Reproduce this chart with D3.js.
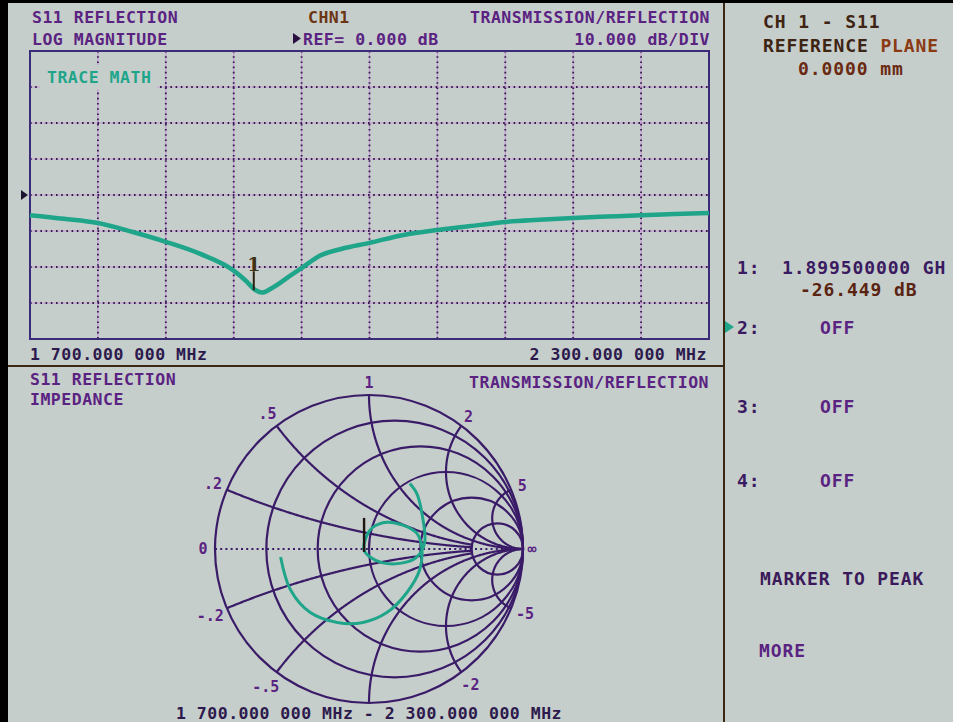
<!DOCTYPE html>
<html>
<head>
<meta charset="utf-8">
<script src="https://cdn.jsdelivr.net/npm/d3@7"></script>
<style>
  html, body { margin: 0; padding: 0; background: #c6cecb; }
  svg { display: block; }
  text { font-family: "DejaVu Sans Mono", "Liberation Mono", monospace; font-weight: bold; }
</style>
</head>
<body>
<svg id="screen" width="953" height="722"></svg>
<script>
// Log magnitude trace (S11).
const freqMHz = [1700, 1730, 1760, 1790, 1820, 1850, 1880, 1890, 1899.5, 1905, 1915, 1930, 1940, 1956, 1975,
  2000, 2030, 2060, 2098, 2120, 2150, 2180, 2210, 2240, 2270, 2300];
const magDb = [-5.6, -6.6, -7.8, -10.2, -13.0, -16.3, -21.0, -23.6, -26.45, -27.1, -25.6, -22.4, -20.3, -16.9, -15.0,
  -13.3, -11.1, -9.7, -8.3, -7.5, -6.9, -6.4, -6.0, -5.6, -5.3, -5.0];

// Graticule of the log magnitude plot.
const freqTicks = [1700, 1760, 1820, 1880, 1940, 2000, 2060, 2120, 2180, 2240, 2300];
const dbTicks = [-40, -30, -20, -10, 0, 10, 20, 30, 40];
const refDb = 0;
const markerFreq = 1899.5;
const markerDb = -26.449;

// Smith chart graticule.
const smithR = [0, 0.2, 0.5, 1, 2, 5];
const smithX = [0.2, 0.5, 1, 2, 5, -0.2, -0.5, -1, -2, -5];
const smithLabelX = [0, 0.2, 0.5, 1, 2, 5, -0.2, -0.5, -2, -5];
const smithLabelText = ['0', '.2', '.5', '1', '2', '5', '-.2', '-.5', '-2', '-5'];

const gammaRe = [0.265, 0.31, 0.348, 0.361, 0.31, 0.219, 0.09, 0.006, -0.032, -0.013, 0.026, 0.116, 0.219,
  0.31, 0.342, 0.329, 0.245, 0.116, -0.039, -0.206, -0.381, -0.51, -0.574];
const gammaIm = [0.426, 0.361, 0.206, 0.039, -0.052, -0.09, -0.09, -0.052, -0.006, 0.09, 0.142, 0.174, 0.155,
  0.103, 0.013, -0.135, -0.284, -0.413, -0.477, -0.477, -0.413, -0.265, -0.052];
const smithMarkerIndex = 8;

// Colours.
const bg = '#c6cecb';
const purple = '#5a2382';
const darkText = '#2d1a4d';
const brown = '#3e2412';
const teal = '#1fa58a';
const graticule = '#3a1b68';

const svg = d3.select('#screen');

// Screen base.
svg.append('rect').attr('width', 953).attr('height', 722).attr('fill', bg);

function label(g, x, y, str, opts = {}) {
  return g.append('text')
    .attr('x', x)
    .attr('y', y)
    .attr('text-anchor', opts.anchor || 'start')
    .style('font-size', (opts.size || 16.5) + 'px')
    .style('letter-spacing', (opts.spacing === undefined ? 0.5 : opts.spacing) + 'px')
    .style('fill', opts.fill || purple)
    .text(str);
}

// ---------- Log magnitude plot ----------
const plot = {left: 30, right: 709, top: 51, bottom: 339};

const xScale = d3.scaleLinear().domain([1700, 2300]).range([plot.left, plot.right]);
const yScale = d3.scaleLinear().domain([-40, 40]).range([plot.bottom, plot.top]);

const upper = svg.append('g').attr('class', 'log-mag');

const grid = upper.append('g').attr('class', 'grid');
grid.selectAll('.vsoft')
  .data(freqTicks.slice(1, -1))
  .enter()
  .append('line')
  .attr('x1', d => xScale(d)).attr('x2', d => xScale(d))
  .attr('y1', plot.top).attr('y2', plot.bottom)
  .style('stroke', '#c583d6').style('stroke-width', 1.2).style('opacity', 0.7);
grid.selectAll('.hsoft')
  .data(dbTicks.slice(1, -1))
  .enter()
  .append('line')
  .attr('x1', plot.left).attr('x2', plot.right)
  .attr('y1', d => yScale(d)).attr('y2', d => yScale(d))
  .style('stroke', '#c583d6').style('stroke-width', 1.2).style('opacity', 0.7);
grid.selectAll('.vdot')
  .data(freqTicks.slice(1, -1))
  .enter()
  .append('line')
  .attr('x1', d => xScale(d)).attr('x2', d => xScale(d))
  .attr('y1', plot.top).attr('y2', plot.bottom)
  .style('stroke', '#33194f').style('stroke-width', 1.8).style('stroke-dasharray', '1.6,3.6');
grid.selectAll('.hdot')
  .data(dbTicks.slice(1, -1))
  .enter()
  .append('line')
  .attr('x1', plot.left).attr('x2', plot.right)
  .attr('y1', d => yScale(d)).attr('y2', d => yScale(d))
  .style('stroke', '#33194f').style('stroke-width', 1.8).style('stroke-dasharray', '1.6,3.6');

// Frame.
upper.append('rect')
  .attr('x', xScale(1700)).attr('y', yScale(40))
  .attr('width', xScale(2300) - xScale(1700))
  .attr('height', yScale(-40) - yScale(40))
  .style('fill', 'none').style('stroke', '#3b2a78').style('stroke-width', 2);

// TRACE MATH annotation blanks the graticule beneath it.
const traceMath = label(upper, 47, 83, 'TRACE MATH', {fill: teal});
const tmBox = traceMath.node().getBBox();
upper.insert('rect', 'text')
  .attr('x', tmBox.x - 7).attr('y', tmBox.y - 3)
  .attr('width', tmBox.width + 13).attr('height', tmBox.height + 5)
  .style('fill', bg);

// Trace.
const magData = freqMHz.map((f, i) => ({f: f, db: magDb[i]}));
const magLine = d3.line()
  .x(d => xScale(d.f))
  .y(d => yScale(d.db))
  .curve(d3.curveMonotoneX);
upper.append('path')
  .datum(magData)
  .attr('d', magLine)
  .style('fill', 'none').style('stroke', teal).style('stroke-width', 4.5)
  .style('stroke-linejoin', 'round');

// Marker 1.
const mx = xScale(markerFreq) - 2;
const my = yScale(markerDb);
upper.append('line')
  .attr('x1', mx).attr('x2', mx).attr('y1', my).attr('y2', my - 19)
  .style('stroke', '#2a2010').style('stroke-width', 2);
upper.append('text')
  .attr('x', mx).attr('y', my - 19)
  .attr('text-anchor', 'middle')
  .style('font-family', '"DejaVu Serif", serif')
  .style('font-weight', 'bold')
  .style('font-size', '19px')
  .style('fill', '#3e3210')
  .text('1');

// Reference position arrow.
const ry = yScale(refDb);
upper.append('path')
  .attr('d', `M21,${ry - 5}L28,${ry}L21,${ry + 5}Z`)
  .style('fill', '#1d1430');

// Header and footer texts.
label(upper, 32, 23, 'S11 REFLECTION');
label(upper, 32, 45, 'LOG MAGNITUDE');
label(upper, 308, 23, 'CHN1', {fill: '#6b3514'});
upper.append('path').attr('d', 'M293,33L301,38.5L293,44Z').style('fill', '#2a1040');
label(upper, 303, 45, 'REF= 0.000 dB');
label(upper, 710, 23, 'TRANSMISSION/REFLECTION', {anchor: 'end'});
label(upper, 710, 45, '10.000 dB/DIV', {anchor: 'end'});
label(upper, 30, 360, '1 700.000 000 MHz', {fill: darkText});
label(upper, 707, 360, '2 300.000 000 MHz', {fill: darkText, anchor: 'end'});

// ---------- Smith chart ----------
const cx = 369, cy = 549, R = 154;
const gx = d3.scaleLinear().domain([-1, 1]).range([cx - R, cx + R]);
const gy = d3.scaleLinear().domain([-1, 1]).range([cy + R, cy - R]);

const lower = svg.append('g').attr('class', 'smith');

// Real axis.
lower.append('line')
  .attr('x1', gx(-1)).attr('x2', gx(1)).attr('y1', gy(0)).attr('y2', gy(0))
  .style('stroke', graticule).style('stroke-width', 1.8).style('stroke-dasharray', '2,3.2');

// Constant resistance circles.
lower.selectAll('.rcircle')
  .data(smithR)
  .enter()
  .append('circle')
  .attr('cx', d => gx(d / (1 + d)))
  .attr('cy', gy(0))
  .attr('r', d => gx(1 / (1 + d)) - gx(0))
  .style('fill', 'none').style('stroke', graticule).style('stroke-width', 2.2);

// Constant reactance arcs; small ones stop at the r = 5 circle.
function gamma(r, x) {
  const den = (r + 1) * (r + 1) + x * x;
  return [(r * r + x * x - 1) / den, (2 * x) / den];
}
const arcLine = d3.line().x(d => gx(d[0])).y(d => gy(d[1]));
lower.selectAll('.xarc')
  .data(smithX)
  .enter()
  .append('path')
  .attr('d', x => {
    const rMax = Math.abs(x) < 1 ? 5 : 1e5;
    const pts = [];
    for (let i = 0; i < 400; i++) {
      const t = i / 400;
      const r = t / (1 - t);
      if (r > rMax) break;
      pts.push(gamma(r, x));
    }
    pts.push(gamma(rMax, x));
    return arcLine(pts);
  })
  .style('fill', 'none').style('stroke', graticule).style('stroke-width', 2.2);

// Graticule labels around the rim.
lower.selectAll('.xlabel')
  .data(smithLabelX)
  .enter()
  .append('text')
  .attr('x', (d, i) => {
    const a = Math.PI - 2 * Math.atan(d);
    return cx + (R + 9 + 3 * smithLabelText[i].length) * Math.cos(a);
  })
  .attr('y', (d, i) => {
    const a = Math.PI - 2 * Math.atan(d);
    return cy - (R + 9 + 3 * smithLabelText[i].length) * Math.sin(a);
  })
  .attr('text-anchor', 'middle')
  .attr('dy', '0.36em')
  .style('font-size', '15px')
  .style('fill', purple)
  .text((d, i) => smithLabelText[i]);
lower.append('text')
  .attr('x', gx(1) + 9).attr('y', gy(0))
  .attr('text-anchor', 'middle').attr('dy', '0.33em')
  .style('font-size', '15px').style('fill', purple)
  .text('\u221e');

// Trace.
const smithData = gammaRe.map((re, i) => [re, gammaIm[i]]);
lower.append('path')
  .datum(smithData)
  .attr('d', d3.line().x(d => gx(d[0])).y(d => gy(d[1])).curve(d3.curveCatmullRom))
  .style('fill', 'none').style('stroke', teal).style('stroke-width', 3);

// Marker 1 on the Smith trace.
const sm = smithData[smithMarkerIndex];
lower.append('line')
  .attr('x1', gx(sm[0])).attr('x2', gx(sm[0]))
  .attr('y1', gy(sm[1]) + 2).attr('y2', gy(sm[1]) - 32)
  .style('stroke', '#1d1410').style('stroke-width', 2.4);

// Panel texts.
label(lower, 30, 385, 'S11 REFLECTION');
label(lower, 30, 405, 'IMPEDANCE');
label(lower, 709, 388, 'TRANSMISSION/REFLECTION', {anchor: 'end'});
label(lower, gx(0), 719, '1 700.000 000 MHz - 2 300.000 000 MHz', {anchor: 'middle', fill: darkText});

// ---------- Softkey / marker panel ----------
const side = svg.append('g').attr('class', 'side');
const sopt = {size: 18, spacing: 0.9};

label(side, 763, 28, 'CH 1 - S11', Object.assign({fill: brown}, sopt));
const refPlane = label(side, 763, 52, 'REFERENCE ', Object.assign({fill: brown}, sopt));
refPlane.append('tspan').style('fill', '#8b3a14').text('PLANE');
label(side, 798, 75, '0.0000 mm', Object.assign({fill: '#6a2a12'}, sopt));

label(side, 737, 274, '1:', Object.assign({fill: '#3a1a60'}, sopt));
label(side, 782, 274, '1.899500000 GH', Object.assign({fill: '#3a1a60'}, sopt));
label(side, 800, 296, '-26.449 dB', Object.assign({fill: '#5a2412'}, sopt));

side.append('path').attr('d', 'M725,321L734,327L725,333Z').style('fill', teal);
const offRows = [{key: '2:', y: 334}, {key: '3:', y: 413}, {key: '4:', y: 487}];
offRows.forEach(row => {
  label(side, 737, row.y, row.key, Object.assign({fill: '#3a1a60'}, sopt));
  label(side, 820, row.y, 'OFF', Object.assign({fill: purple}, sopt));
});
label(side, 760, 585, 'MARKER TO PEAK', Object.assign({fill: '#3a1a5a'}, sopt));
label(side, 759, 657, 'MORE', Object.assign({fill: purple}, sopt));

// ---------- Panel rules and bezel ----------
svg.append('line')
  .attr('x1', 8).attr('x2', 724).attr('y1', 366).attr('y2', 366)
  .style('stroke', '#3a2812').style('stroke-width', 2);
svg.append('line')
  .attr('x1', 724).attr('x2', 724).attr('y1', 3).attr('y2', 722)
  .style('stroke', '#3a2812').style('stroke-width', 2);
svg.append('rect').attr('x', 0).attr('y', 0).attr('width', 953).attr('height', 3).style('fill', '#000');
svg.append('rect').attr('x', 0).attr('y', 0).attr('width', 8).attr('height', 722).style('fill', '#000');
</script>
</body>
</html>
